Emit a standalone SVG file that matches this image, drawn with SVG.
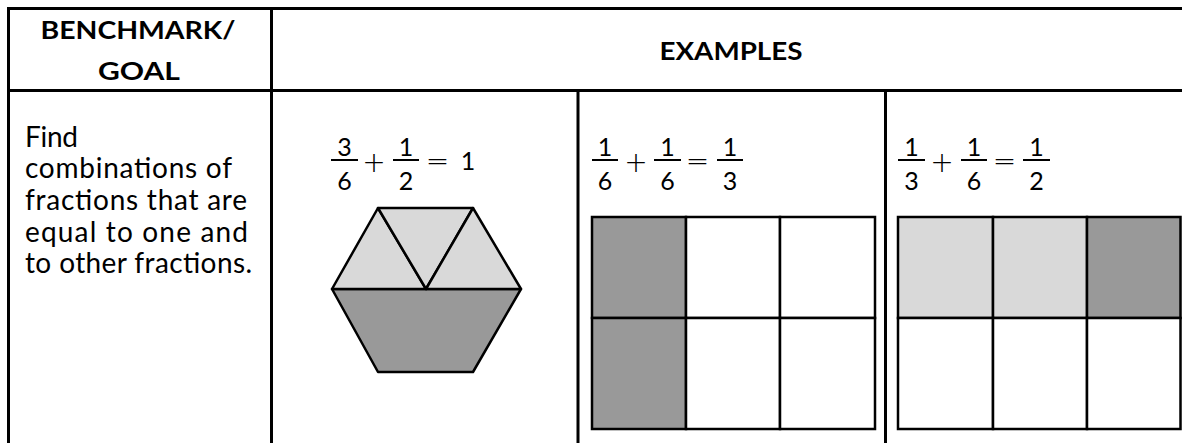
<svg xmlns="http://www.w3.org/2000/svg" width="1182" height="443" viewBox="0 0 1182 443">
<style>
.tbl{stroke:#000;stroke-width:3;fill:none}
.hd{font-family:Lato,"Liberation Sans",sans-serif;font-weight:bold;font-size:25px;fill:#000;text-anchor:middle}
.bd{font-family:Lato,"Liberation Sans",sans-serif;font-size:28px;fill:#000}
.num{font-family:Lato,"Liberation Sans",sans-serif;font-size:25px;fill:#000;text-anchor:middle}
.op{font-family:"DejaVu Sans","Liberation Sans",sans-serif;font-weight:200;font-size:28px;fill:#000;text-anchor:middle}
.bar{stroke:#000;stroke-width:2}
.cell{stroke:#000;stroke-width:2.5}
.lt{fill:#d9d9d9}
.dk{fill:#999999}
.wh{fill:#ffffff}
</style>
<rect width="1182" height="443" fill="#fff"/>
<g id="table">
<path class="tbl" d="M8.5 443 V8.5 H1182 M8.5 90.5 H1182 M271.5 8.5 V443 M578 90.5 V443 M885.5 90.5 V443"/>
</g>
<g id="header-benchmark">
<text class="hd" x="138" y="39" textLength="195" lengthAdjust="spacingAndGlyphs">BENCHMARK/</text>
<text class="hd" x="139" y="80" textLength="82" lengthAdjust="spacingAndGlyphs">GOAL</text>
</g>
<g id="header-examples">
<text class="hd" x="731" y="60" textLength="143" lengthAdjust="spacingAndGlyphs">EXAMPLES</text>
</g>
<g id="goal-text">
<text class="bd" x="25" y="147" textLength="53">Find</text>
<text class="bd" x="25" y="178" textLength="207">combinations of</text>
<text class="bd" x="25" y="210" textLength="222">fractions that are</text>
<text class="bd" x="25" y="242" textLength="223">equal to one and</text>
<text class="bd" x="25" y="273" textLength="227">to other fractions.</text>
</g>
<g id="example-1">
<text class="num" x="344.5" y="156">3</text>
<line class="bar" x1="331" y1="160" x2="358" y2="160"/>
<text class="num" x="344.5" y="190">6</text>
<text class="op" x="374" y="172">+</text>
<text class="num" x="406" y="156">1</text>
<line class="bar" x1="393" y1="160" x2="419" y2="160"/>
<text class="num" x="406" y="190">2</text>
<text class="op" x="437.5" y="170">=</text>
<text class="num" x="468" y="170">1</text>
<g stroke="#000" stroke-width="2.5" stroke-linejoin="round">
<polygon class="dk" points="332,289 521,289 473,372 378,372"/>
<polygon class="lt" points="332,289 378,208 426,289"/>
<polygon class="lt" points="378,208 473,208 426,289"/>
<polygon class="lt" points="426,289 473,208 521,289"/>
</g>
</g>
<g id="example-2">
<text class="num" x="605" y="156">1</text>
<line class="bar" x1="592" y1="160" x2="618" y2="160"/>
<text class="num" x="605" y="190">6</text>
<text class="op" x="636" y="172">+</text>
<text class="num" x="667.5" y="156">1</text>
<line class="bar" x1="654" y1="160" x2="681" y2="160"/>
<text class="num" x="667.5" y="190">6</text>
<text class="op" x="697.5" y="170">=</text>
<text class="num" x="730" y="156">1</text>
<line class="bar" x1="717" y1="160" x2="743" y2="160"/>
<text class="num" x="730" y="190">3</text>
<g class="cell">
<rect class="dk" x="592" y="217" width="94" height="101"/>
<rect class="wh" x="686" y="217" width="94" height="101"/>
<rect class="wh" x="780" y="217" width="95" height="101"/>
<rect class="dk" x="592" y="318" width="94" height="111"/>
<rect class="wh" x="686" y="318" width="94" height="111"/>
<rect class="wh" x="780" y="318" width="95" height="111"/>
</g>
</g>
<g id="example-3">
<text class="num" x="911.5" y="156">1</text>
<line class="bar" x1="898" y1="160" x2="925" y2="160"/>
<text class="num" x="911.5" y="190">3</text>
<text class="op" x="942" y="172">+</text>
<text class="num" x="974" y="156">1</text>
<line class="bar" x1="961" y1="160" x2="987" y2="160"/>
<text class="num" x="974" y="190">6</text>
<text class="op" x="1004.5" y="170">=</text>
<text class="num" x="1036.5" y="156">1</text>
<line class="bar" x1="1023" y1="160" x2="1050" y2="160"/>
<text class="num" x="1036.5" y="190">2</text>
<g class="cell">
<rect class="lt" x="898" y="217" width="95" height="101"/>
<rect class="lt" x="993" y="217" width="94" height="101"/>
<rect class="dk" x="1087" y="217" width="93.5" height="101"/>
<rect class="wh" x="898" y="318" width="95" height="111"/>
<rect class="wh" x="993" y="318" width="94" height="111"/>
<rect class="wh" x="1087" y="318" width="93.5" height="111"/>
</g>
</g>
</svg>
